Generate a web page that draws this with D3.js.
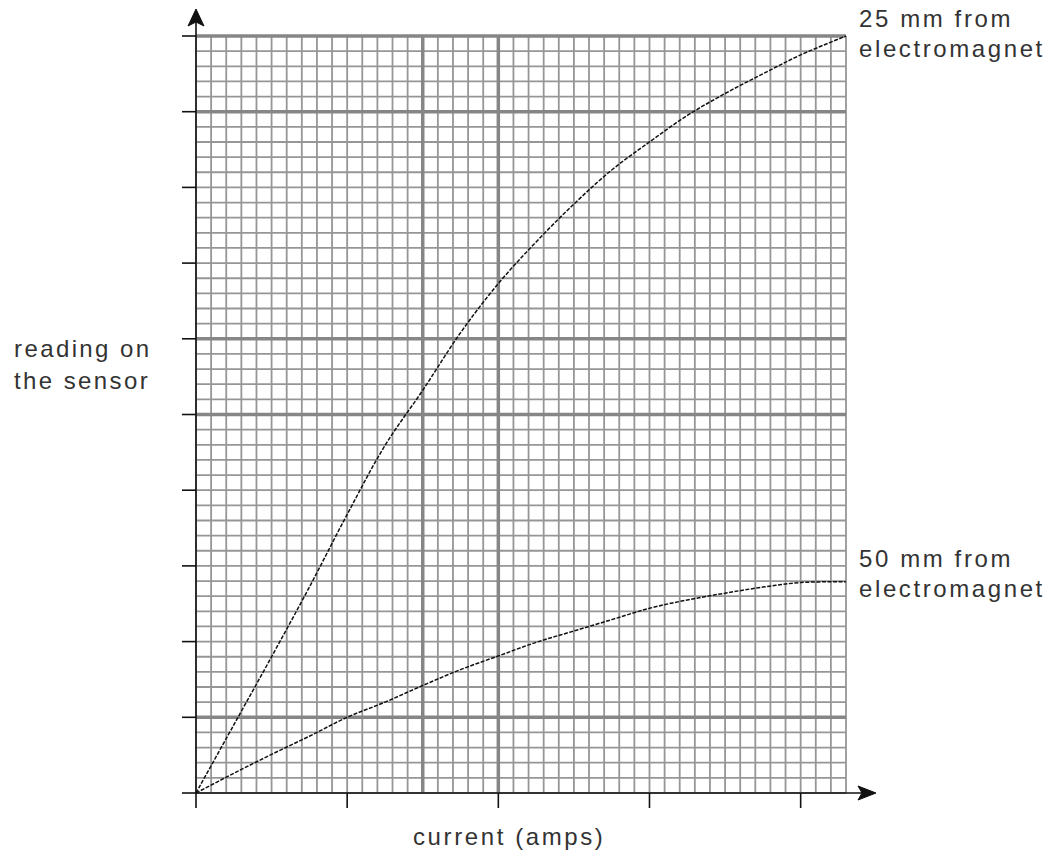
<!DOCTYPE html>
<meta charset="utf-8">
<script src="https://d3js.org/d3.v7.min.js"></script>
<style>
  body { margin: 0; background: #fff; }
  text { font-family: "Liberation Sans", Arial, sans-serif; fill: #333; }
</style>
<div id="my_dataviz"></div>

<script>
    // values (x in big squares, y in big squares)
    var current = [0, 0.25, 0.5, 0.75, 1, 1.25, 1.5, 1.75, 2, 2.25, 2.5, 2.75, 3, 3.25, 3.5, 3.75, 4, 4.3];
    var reading25 = [0, 0.9, 1.8, 2.72, 3.68, 4.59, 5.32, 6.08, 6.73, 7.28, 7.78, 8.23, 8.6, 8.95, 9.24, 9.5, 9.75, 10];
    var reading50 = [0, 0.26, 0.51, 0.75, 1.0, 1.2, 1.42, 1.63, 1.81, 1.99, 2.14, 2.29, 2.44, 2.55, 2.64, 2.72, 2.78, 2.79];
    var xTicks = [0, 1, 2, 3, 4];
    var yTicks = [0, 1, 2, 3, 4, 5, 6, 7, 8, 9, 10];
    var boldY = [1, 5, 6, 9, 10];
    var boldX = [1.5, 2];
    var label25 = ["25 mm from", "electromagnet"];
    var label50 = ["50 mm from", "electromagnet"];
    var yLabel = ["reading on", "the sensor"];
    var xLabel = "current (amps)";

    var width = 1056, height = 859;

    var svg = d3.select("#my_dataviz")
        .append("svg")
        .attr("width", width)
        .attr("height", height);

    var x = d3.scaleLinear().domain([0, 4.3]).range([196, 846]);
    var y = d3.scaleLinear().domain([0, 10]).range([793, 36]);

    // small squares: tenths across, fifths up
    var minorX = d3.range(44).map(function (i) { return i / 10; });
    var minorY = d3.range(51).map(function (i) { return i / 5; });

    var grid = svg.append("g");
    grid.selectAll("vline")
        .data(minorX)
        .enter()
        .append("line")
        .attr("x1", function (d) { return x(d); })
        .attr("x2", function (d) { return x(d); })
        .attr("y1", y(0))
        .attr("y2", y(10))
        .attr("stroke", "#969696")
        .attr("stroke-width", 1.8);
    grid.selectAll("hline")
        .data(minorY)
        .enter()
        .append("line")
        .attr("x1", x(0))
        .attr("x2", x(4.3))
        .attr("y1", function (d) { return y(d); })
        .attr("y2", function (d) { return y(d); })
        .attr("stroke", "#969696")
        .attr("stroke-width", 1.8);

    // the heavier lines
    grid.selectAll("bh")
        .data(boldY)
        .enter()
        .append("line")
        .attr("x1", x(0))
        .attr("x2", x(4.3))
        .attr("y1", function (d) { return y(d); })
        .attr("y2", function (d) { return y(d); })
        .attr("stroke", "#868686")
        .attr("stroke-width", 3.5);
    grid.selectAll("bv")
        .data(boldX)
        .enter()
        .append("line")
        .attr("x1", function (d) { return x(d); })
        .attr("x2", function (d) { return x(d); })
        .attr("y1", y(0))
        .attr("y2", y(10))
        .attr("stroke", "#868686")
        .attr("stroke-width", 3.5);

    // curves
    var line = d3.line()
        .x(function (d) { return x(d[0]); })
        .y(function (d) { return y(d[1]); })
        .curve(d3.curveCatmullRom.alpha(0.5));

    [reading25, reading50].forEach(function (s) {
        svg.append("path")
            .datum(current.map(function (c, i) { return [c, s[i]]; }))
            .attr("d", line)
            .attr("fill", "none")
            .attr("stroke", "#111")
            .attr("stroke-width", 1.5)
            .attr("stroke-dasharray", "4,1.5");
    });

    // axes
    var axes = svg.append("g").attr("stroke", "#111").attr("stroke-width", 1.6);
    axes.append("line")
        .attr("x1", x(0)).attr("x2", x(0))
        .attr("y1", y(0)).attr("y2", 22);
    axes.append("line")
        .attr("x1", x(0)).attr("x2", 862)
        .attr("y1", y(0)).attr("y2", y(0));
    axes.selectAll("yt")
        .data(yTicks)
        .enter()
        .append("line")
        .attr("x1", x(0) - 14).attr("x2", x(0))
        .attr("y1", function (d) { return y(d); })
        .attr("y2", function (d) { return y(d); });
    axes.selectAll("xt")
        .data(xTicks)
        .enter()
        .append("line")
        .attr("x1", function (d) { return x(d); })
        .attr("x2", function (d) { return x(d); })
        .attr("y1", y(0)).attr("y2", y(0) + 15);

    // arrow heads
    var ox = x(0), oy = y(0);
    svg.append("path")
        .attr("d", "M" + ox + ",9 L" + (ox + 8) + ",26 L" + ox + ",22 L" + (ox - 8) + ",26 Z")
        .attr("fill", "#111").attr("stroke", "#111").attr("stroke-width", 1);
    svg.append("path")
        .attr("d", "M876," + oy + " L858," + (oy - 7) + " L862," + oy + " L858," + (oy + 7) + " Z")
        .attr("fill", "#111").attr("stroke", "#111").attr("stroke-width", 1);

    // labels
    function block(lines, tx, ty, gap, ls) {
        var t = svg.append("text")
            .attr("font-size", 24)
            .attr("letter-spacing", ls + "px");
        lines.forEach(function (s, i) {
            t.append("tspan").attr("x", tx).attr("y", ty + i * gap).text(s);
        });
    }
    block(label25, 859, 27, 30, 2.6);
    block(label50, 859, 567, 30, 2.6);
    block(yLabel, 14, 357, 32, 2.4);
    svg.append("text")
        .attr("x", 413).attr("y", 845)
        .attr("font-size", 24)
        .attr("letter-spacing", "2.6px")
        .text(xLabel);
</script>
